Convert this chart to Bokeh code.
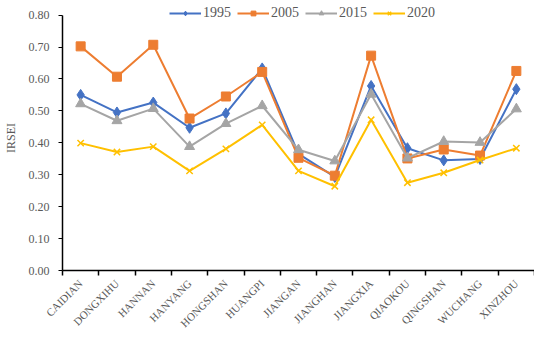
import math
from bokeh.plotting import figure
from bokeh.models import (ColumnDataSource, FixedTicker, Legend, LegendItem,
                          NumeralTickFormatter, Range1d)
from bokeh.embed import file_html
from bokeh.resources import INLINE

districts = ["CAIDIAN", "DONGXIHU", "HANNAN", "HANYANG", "HONGSHAN", "HUANGPI", "JIANGAN",
             "JIANGHAN", "JIANGXIA", "QIAOKOU", "QINGSHAN", "WUCHANG", "XINZHOU"]
y1995 = [0.550, 0.495, 0.526, 0.447, 0.492, 0.633, 0.365, 0.293, 0.578, 0.383, 0.345, 0.349, 0.568]
y2005 = [0.702, 0.607, 0.707, 0.476, 0.545, 0.622, 0.353, 0.297, 0.673, 0.351, 0.379, 0.360, 0.625]
y2015 = [0.522, 0.469, 0.507, 0.388, 0.460, 0.516, 0.378, 0.343, 0.552, 0.352, 0.404, 0.401, 0.506]
y2020 = [0.399, 0.371, 0.388, 0.312, 0.381, 0.456, 0.312, 0.264, 0.472, 0.275, 0.306, 0.346, 0.383]
y_ticks = [0.0, 0.1, 0.2, 0.3, 0.4, 0.5, 0.6, 0.7, 0.8]

FONT = "'Liberation Serif', serif"
GREY = "#595959"

xc = [i + 0.5 for i in range(len(districts))]
src = ColumnDataSource(dict(x=xc, a=y1995, b=y2005, c=y2015, d=y2020))

p = figure(width=534, height=336, output_backend="svg", toolbar_location=None,
           x_range=Range1d(0, len(districts)), y_range=Range1d(0, 0.83),
           min_border_left=50, min_border_right=0, min_border_top=5, min_border_bottom=60)
p.outline_line_color = None
p.xgrid.grid_line_color = None
p.ygrid.grid_line_color = None
p.background_fill_color = "white"

# x axis: labels at category centres, tick marks at boundaries (minor ticks)
p.xaxis.ticker = FixedTicker(ticks=xc, minor_ticks=list(range(len(districts) + 1)))
p.xaxis.major_label_overrides = {x: n for x, n in zip(xc, districts)}
p.xaxis.major_label_orientation = math.pi / 4
p.xaxis.major_label_text_font = FONT
p.xaxis.major_label_text_font_size = "11px"
p.xaxis.major_label_text_color = GREY
p.xaxis.major_label_standoff = 6
p.xaxis.major_tick_line_color = None
p.xaxis.major_tick_out = 0
p.xaxis.minor_tick_in = 0
p.xaxis.minor_tick_out = 5
p.xaxis.minor_tick_line_color = "black"
p.xaxis.minor_tick_line_width = 1.5
p.xaxis.axis_line_color = "black"
p.xaxis.axis_line_width = 1.5

p.yaxis.ticker = FixedTicker(ticks=y_ticks)
p.yaxis.bounds = (y_ticks[0], y_ticks[-1])
p.yaxis.formatter = NumeralTickFormatter(format="0.00")
p.yaxis.major_tick_in = 0
p.yaxis.major_tick_out = 4
p.yaxis.minor_tick_line_color = None
p.yaxis.axis_line_color = "black"
p.yaxis.axis_line_width = 1.5
p.yaxis.major_tick_line_color = "black"
p.yaxis.major_label_text_font = FONT
p.yaxis.major_label_text_font_size = "12px"
p.yaxis.major_label_text_color = GREY
p.yaxis.major_label_standoff = 9
p.yaxis.axis_label = "IRSEI"
p.yaxis.axis_label_text_font = FONT
p.yaxis.axis_label_text_font_size = "12px"
p.yaxis.axis_label_text_font_style = "normal"
p.yaxis.axis_label_text_color = GREY
p.yaxis.axis_label_standoff = 8

specs = [("a", "1995", "#4472C4", "diamond", 11),
         ("b", "2005", "#ED7D31", "square", 9),
         ("c", "2015", "#A5A5A5", "triangle", 10),
         ("d", "2020", "#FFC000", "x", 9)]
items = []
for col, lab, color, marker, size in specs:
    r1 = p.line("x", col, source=src, line_color=color, line_width=2)
    r2 = p.scatter("x", col, source=src, marker=marker, size=size, fill_color=color,
                   line_color=color, line_width=1.5 if marker == "x" else 1)
    items.append(LegendItem(label=lab, renderers=[r1, r2]))

legend = Legend(items=items, orientation="horizontal", location=(107, 249),
                label_text_font=FONT, label_text_font_size="14px", label_text_color=GREY,
                glyph_width=32, glyph_height=12, label_height=12, label_standoff=2,
                spacing=6, padding=0, margin=0, border_line_color=None,
                background_fill_alpha=0)
p.add_layout(legend, "center")

open("out.html", "w").write(file_html(p, INLINE))
